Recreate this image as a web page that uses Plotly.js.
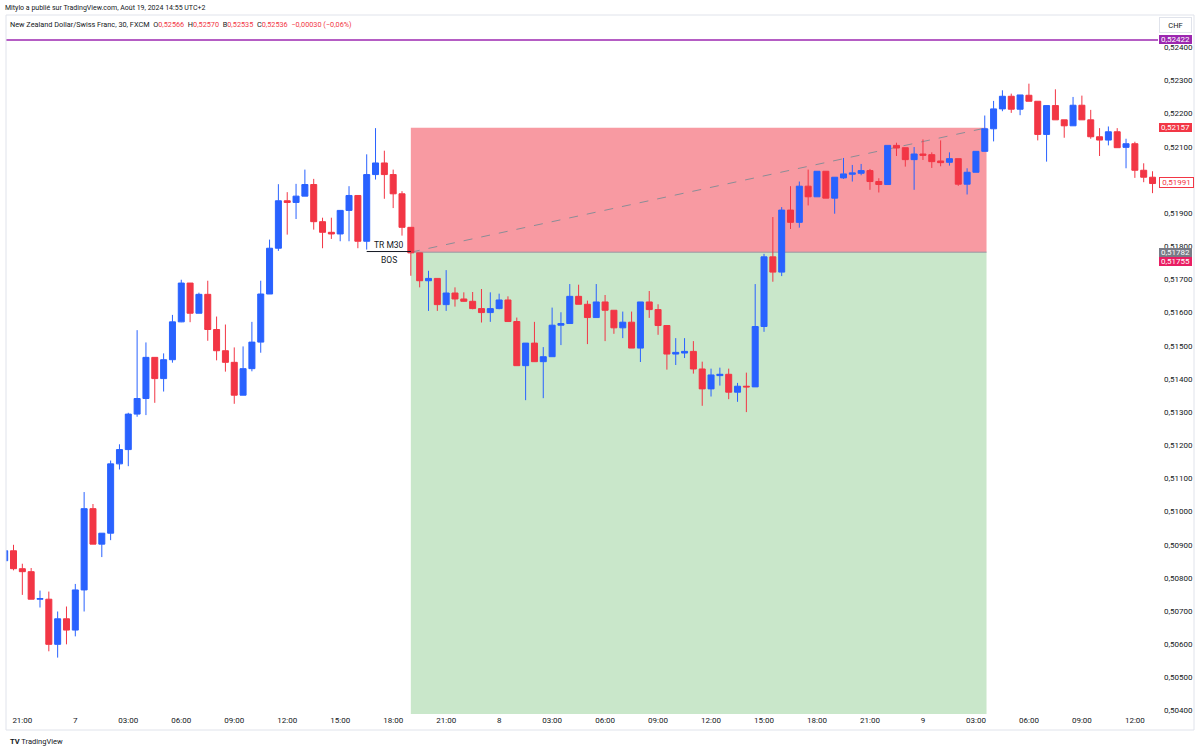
<!DOCTYPE html>
<html><head><meta charset="utf-8">
<script src="https://cdn.plot.ly/plotly-3.0.1.min.js"></script>
<style>html,body{margin:0;padding:0;background:#fff;}#chart{width:1200px;height:751px;}</style>
</head><body><div id="chart"></div>
<script>
// NZD/CHF 30-minute bars, first bar = 20:00 (Aug 6), bar 2 = 21:00
const openP = [0.50852,0.50882,0.50828,0.50819,0.50736,0.50736,0.50600,0.50677,0.50643,0.50764,
0.51009,0.50902,0.50935,0.51144,0.51187,0.51294,0.51341,0.51465,0.51401,0.51458,
0.51572,0.51689,0.51598,0.51655,0.51549,0.51485,0.51450,0.51351,0.51431,0.51511,
0.51656,0.51794,0.51937,0.51932,0.51951,0.51986,0.51874,0.51842,0.51837,0.51908,
0.51953,0.51815,0.52016,0.52051,0.52016,0.51958,0.51857,0.51780,0.51696,0.51703,
0.51624,0.51659,0.51641,0.51634,0.51612,0.51600,0.51612,0.51638,0.51573,0.51440,
0.51508,0.51452,0.51467,0.51562,0.51567,0.51649,0.51625,0.51585,0.51632,0.51607,
0.51554,0.51571,0.51493,0.51632,0.51609,0.51561,0.51475,0.51478,0.51483,0.51430,
0.51370,0.51410,0.51414,0.51360,0.51378,0.51376,0.51558,0.51768,0.51722,0.51909,
0.51872,0.51981,0.51949,0.52026,0.51945,0.52006,0.52017,0.52020,0.52028,0.51995,
0.51986,0.52104,0.52097,0.52061,0.52078,0.52076,0.52057,0.52053,0.52064,0.51987,
0.52023,0.52086,0.52154,0.52214,0.52252,0.52213,0.52255,0.52237,0.52137,0.52224,
0.52181,0.52163,0.52225,0.52181,0.52130,0.52120,0.52145,0.52098,0.52109,0.52029,
0.52008];
const highP = [0.50895,0.50900,0.50843,0.50830,0.50762,0.50759,0.50699,0.50714,0.50782,0.51059,
0.51023,0.50935,0.51154,0.51203,0.51298,0.51547,0.51510,0.51465,0.51477,0.51593,
0.51699,0.51689,0.51660,0.51696,0.51588,0.51564,0.51495,0.51498,0.51572,0.51696,
0.51820,0.51987,0.51963,0.51988,0.52031,0.52003,0.51886,0.51886,0.51908,0.51981,
0.51953,0.52077,0.52156,0.52088,0.52031,0.51966,0.51857,0.51780,0.51726,0.51703,
0.51728,0.51676,0.51661,0.51662,0.51671,0.51661,0.51657,0.51649,0.51585,0.51508,
0.51572,0.51496,0.51615,0.51601,0.51686,0.51684,0.51636,0.51686,0.51653,0.51607,
0.51603,0.51603,0.51632,0.51665,0.51625,0.51561,0.51523,0.51523,0.51514,0.51452,
0.51431,0.51434,0.51431,0.51388,0.51419,0.51686,0.51777,0.51888,0.51918,0.51981,
0.51995,0.52031,0.52026,0.52026,0.52008,0.52066,0.52045,0.52048,0.52033,0.52005,
0.52104,0.52112,0.52097,0.52099,0.52122,0.52083,0.52119,0.52083,0.52064,0.52035,
0.52086,0.52194,0.52238,0.52270,0.52260,0.52256,0.52290,0.52237,0.52224,0.52273,
0.52181,0.52250,0.52254,0.52211,0.52156,0.52161,0.52156,0.52124,0.52115,0.52050,
0.52026];
const lowP = [0.50845,0.50823,0.50749,0.50736,0.50711,0.50579,0.50560,0.50600,0.50624,0.50699,
0.50902,0.50863,0.50914,0.51127,0.51137,0.51286,0.51291,0.51328,0.51362,0.51449,
0.51571,0.51571,0.51598,0.51515,0.51456,0.51422,0.51325,0.51351,0.51423,0.51479,
0.51656,0.51786,0.51835,0.51882,0.51951,0.51850,0.51794,0.51822,0.51815,0.51815,
0.51794,0.51790,0.52001,0.51943,0.51915,0.51832,0.51711,0.51676,0.51605,0.51605,
0.51605,0.51618,0.51633,0.51610,0.51570,0.51572,0.51610,0.51573,0.51440,0.51336,
0.51452,0.51342,0.51467,0.51502,0.51567,0.51625,0.51505,0.51585,0.51514,0.51536,
0.51523,0.51493,0.51451,0.51584,0.51533,0.51428,0.51442,0.51463,0.51416,0.51319,
0.51347,0.51380,0.51339,0.51331,0.51300,0.51376,0.51542,0.51693,0.51710,0.51852,
0.51856,0.51923,0.51949,0.51945,0.51898,0.52003,0.51995,0.52014,0.51970,0.51962,
0.51986,0.52072,0.52040,0.51970,0.52060,0.52036,0.52041,0.52043,0.51982,0.51956,
0.52023,0.52086,0.52116,0.52207,0.52202,0.52195,0.52237,0.52119,0.52055,0.52181,
0.52127,0.52163,0.52181,0.52124,0.52072,0.52104,0.52097,0.52035,0.52006,0.51993,
0.51960];
const closeP = [0.50882,0.50828,0.50819,0.50736,0.50738,0.50600,0.50677,0.50643,0.50764,0.51009,
0.50902,0.50935,0.51144,0.51187,0.51294,0.51341,0.51465,0.51401,0.51458,0.51572,
0.51689,0.51598,0.51655,0.51549,0.51485,0.51450,0.51351,0.51431,0.51511,0.51656,
0.51794,0.51937,0.51932,0.51951,0.51986,0.51874,0.51842,0.51837,0.51908,0.51953,
0.51815,0.52016,0.52051,0.52016,0.51958,0.51857,0.51780,0.51696,0.51703,0.51624,
0.51659,0.51641,0.51634,0.51612,0.51600,0.51612,0.51638,0.51573,0.51440,0.51508,
0.51452,0.51467,0.51562,0.51567,0.51649,0.51625,0.51585,0.51632,0.51607,0.51554,
0.51571,0.51493,0.51632,0.51609,0.51561,0.51475,0.51480,0.51483,0.51430,0.51370,
0.51412,0.51414,0.51360,0.51378,0.51376,0.51558,0.51768,0.51722,0.51909,0.51872,
0.51981,0.51949,0.52026,0.51945,0.52008,0.52018,0.52021,0.52028,0.51995,0.51986,
0.52104,0.52096,0.52061,0.52078,0.52074,0.52055,0.52052,0.52064,0.51987,0.52023,
0.52086,0.52154,0.52214,0.52252,0.52213,0.52256,0.52237,0.52137,0.52224,0.52181,
0.52163,0.52225,0.52181,0.52130,0.52120,0.52145,0.52097,0.52109,0.52029,0.52008,
0.51989];

const timeTickLabels = ["21:00","7","03:00","06:00","09:00","12:00","15:00","18:00","21:00","8","03:00","06:00","09:00","12:00","15:00","18:00","21:00","9","03:00","06:00","09:00","12:00"];
const barsPerTick = 6;
const firstTickBar = 2;

const highlightLevel = 0.52422;   // purple horizontal line
const stopLevel = 0.52157;        // top of red zone
const entryLevel = 0.51782;       // entry line
const targetLevel = 0.50000;      // bottom of green zone (off chart)
const lastLevel = 0.51991;
const bidLevel = 0.51755;
const zoneStartBar = 46;
const zoneEndBar = 111.2;
const bosLevel = 0.51784;
const bosStartBar = 41;
const bosEndBar = 46;

const bars = openP.map((_, i) => i);
const tickVals = timeTickLabels.map((_, i) => firstTickBar + i * barsPerTick);

const F = 'Roboto, Arial, sans-serif';
const TXT = '#131722';
const RED = '#f23645', BLUE = '#2962ff';

const fmt = v => v.toFixed(5).replace('.', ',');

const trace = {
  type: 'candlestick', x: bars, open: openP, high: highP, low: lowP, close: closeP,
  increasing: {line: {color: BLUE, width: 1}, fillcolor: BLUE},
  decreasing: {line: {color: RED, width: 1}, fillcolor: RED},
  whiskerwidth: 0, hoverinfo: 'skip', showlegend: false
};

function priceTag(level, bg, fg, border) {
  return {xref: 'paper', x: 1, xanchor: 'left', xshift: 1, yref: 'y', y: level, yanchor: 'middle',
    text: fmt(level), showarrow: false, bgcolor: bg, bordercolor: border || bg, borderwidth: border ? 1 : 0,
    borderpad: 0, width: 33, height: 9, align: 'center', font: {family: F, size: 8, color: fg}};
}

const layout = {
  width: 1200, height: 751,
  margin: {l: 6, r: 42, t: 15, b: 37, pad: 0},
  paper_bgcolor: '#ffffff', plot_bgcolor: '#ffffff',
  separators: ', ',
  boxgap: 0.32, boxgroupgap: 0,
  hovermode: false, showlegend: false,
  xaxis: {range: [0.15, 130.62], rangeslider: {visible: false}, showgrid: false, zeroline: false,
    showline: false, ticks: '', tickvals: tickVals, ticktext: timeTickLabels,
    tickfont: {family: F, size: 8, color: TXT}, fixedrange: true},
  yaxis: {side: 'right', range: [0.5039, 0.52497], dtick: 0.001, tick0: 0, tickformat: '.5f',
    showgrid: false, zeroline: false, showline: false, ticks: '', ticklabelstandoff: 5,
    tickfont: {family: F, size: 8, color: TXT}, fixedrange: true},
  shapes: [
    {type: 'rect', layer: 'below', xref: 'x', yref: 'y', x0: zoneStartBar, x1: zoneEndBar, y0: entryLevel, y1: stopLevel,
      fillcolor: 'rgba(242,54,69,0.5)', line: {width: 0}},
    {type: 'rect', layer: 'below', xref: 'x', yref: 'y', x0: zoneStartBar, x1: zoneEndBar, y0: targetLevel, y1: entryLevel,
      fillcolor: 'rgba(76,175,80,0.3)', line: {width: 0}},
    {type: 'line', layer: 'below', xref: 'x', yref: 'y', x0: zoneStartBar, x1: zoneEndBar, y0: entryLevel, y1: entryLevel,
      line: {color: '#9598a1', width: 1}},
    {type: 'line', layer: 'below', xref: 'x', yref: 'y', x0: zoneStartBar, x1: zoneEndBar, y0: entryLevel, y1: stopLevel,
      line: {color: '#8a8d96', width: 1, dash: 'dash'}},
    {type: 'line', xref: 'paper', yref: 'y', x0: 0, x1: 1, y0: highlightLevel, y1: highlightLevel,
      line: {color: '#9c27b0', width: 1.5}},
    {type: 'line', xref: 'x', yref: 'y', x0: bosStartBar, x1: bosEndBar, y0: bosLevel, y1: bosLevel,
      line: {color: '#131722', width: 1}},
    // pane frame
    {type: 'line', xref: 'paper', yref: 'paper', x0: 0, x1: 1.03125, y0: 1, y1: 1, line: {color: '#e0e3eb', width: 1}},
    {type: 'line', xref: 'paper', yref: 'paper', x0: 0, x1: 0, y0: 1, y1: -0.0229, line: {color: '#e0e3eb', width: 1}},
    {type: 'line', xref: 'paper', yref: 'paper', x0: 1.03125, x1: 1.03125, y0: 1, y1: -0.0229, line: {color: '#e0e3eb', width: 1}},
    {type: 'line', xref: 'paper', yref: 'paper', x0: 0, x1: 1.03125, y0: -0.0229, y1: -0.0229, line: {color: '#e0e3eb', width: 1}}
  ],
  annotations: [
    {xref: 'x', yref: 'y', x: (bosStartBar + bosEndBar) / 2, y: bosLevel, yanchor: 'bottom', yshift: 0,
      text: 'TR M30', showarrow: false, font: {family: F, size: 8.5, color: TXT}},
    {xref: 'x', yref: 'y', x: (bosStartBar + bosEndBar) / 2, y: bosLevel, yanchor: 'top', yshift: -1,
      text: 'BOS', showarrow: false, font: {family: F, size: 8.5, color: TXT}},
    priceTag(highlightLevel, '#9c27b0', '#ffffff'),
    priceTag(stopLevel, RED, '#ffffff'),
    priceTag(lastLevel, '#ffffff', RED, RED),
    priceTag(entryLevel, '#787b86', '#ffffff'),
    priceTag(bidLevel, '#e91e63', '#ffffff'),
    {xref: 'paper', yref: 'paper', x: 0, xshift: -3, y: 1.0100, xanchor: 'left', yanchor: 'middle', showarrow: false,
      text: 'Mitylo a publié sur TradingView.com, Août 19, 2024 14:55 UTC+2', font: {family: F, size: 7, color: TXT}},
    {xref: 'paper', yref: 'paper', x: 0.0035, xshift: -2, y: 0.9857, xanchor: 'left', yanchor: 'middle', showarrow: false,
      text: 'New Zealand Dollar/Swiss Franc, 30, FXCM  O<span style="color:#f23645">0,52566</span>  H<span style="color:#f23645">0,52570</span>  B<span style="color:#f23645">0,52535</span>  C<span style="color:#f23645">0,52536</span>  <span style="color:#f23645">−0,00030 (−0,06%)</span>',
      font: {family: F, size: 7.3, color: TXT}},
    {xref: 'paper', yref: 'paper', x: 1.0156, y: 0.985, xanchor: 'center', yanchor: 'middle', showarrow: false,
      text: 'CHF', width: 31, height: 14, bgcolor: '#ffffff', bordercolor: '#e0e3eb', borderwidth: 1, borderpad: 0,
      font: {family: F, size: 7.5, color: TXT}},
    {xref: 'paper', yref: 'paper', x: 0.0017, y: -0.040, xanchor: 'left', yanchor: 'middle', showarrow: false,
      text: '<b>TV</b> TradingView', font: {family: F, size: 7.5, color: TXT}}
  ]
};

Plotly.newPlot('chart', [trace], layout, {staticPlot: true, displayModeBar: false});
</script></body></html>
